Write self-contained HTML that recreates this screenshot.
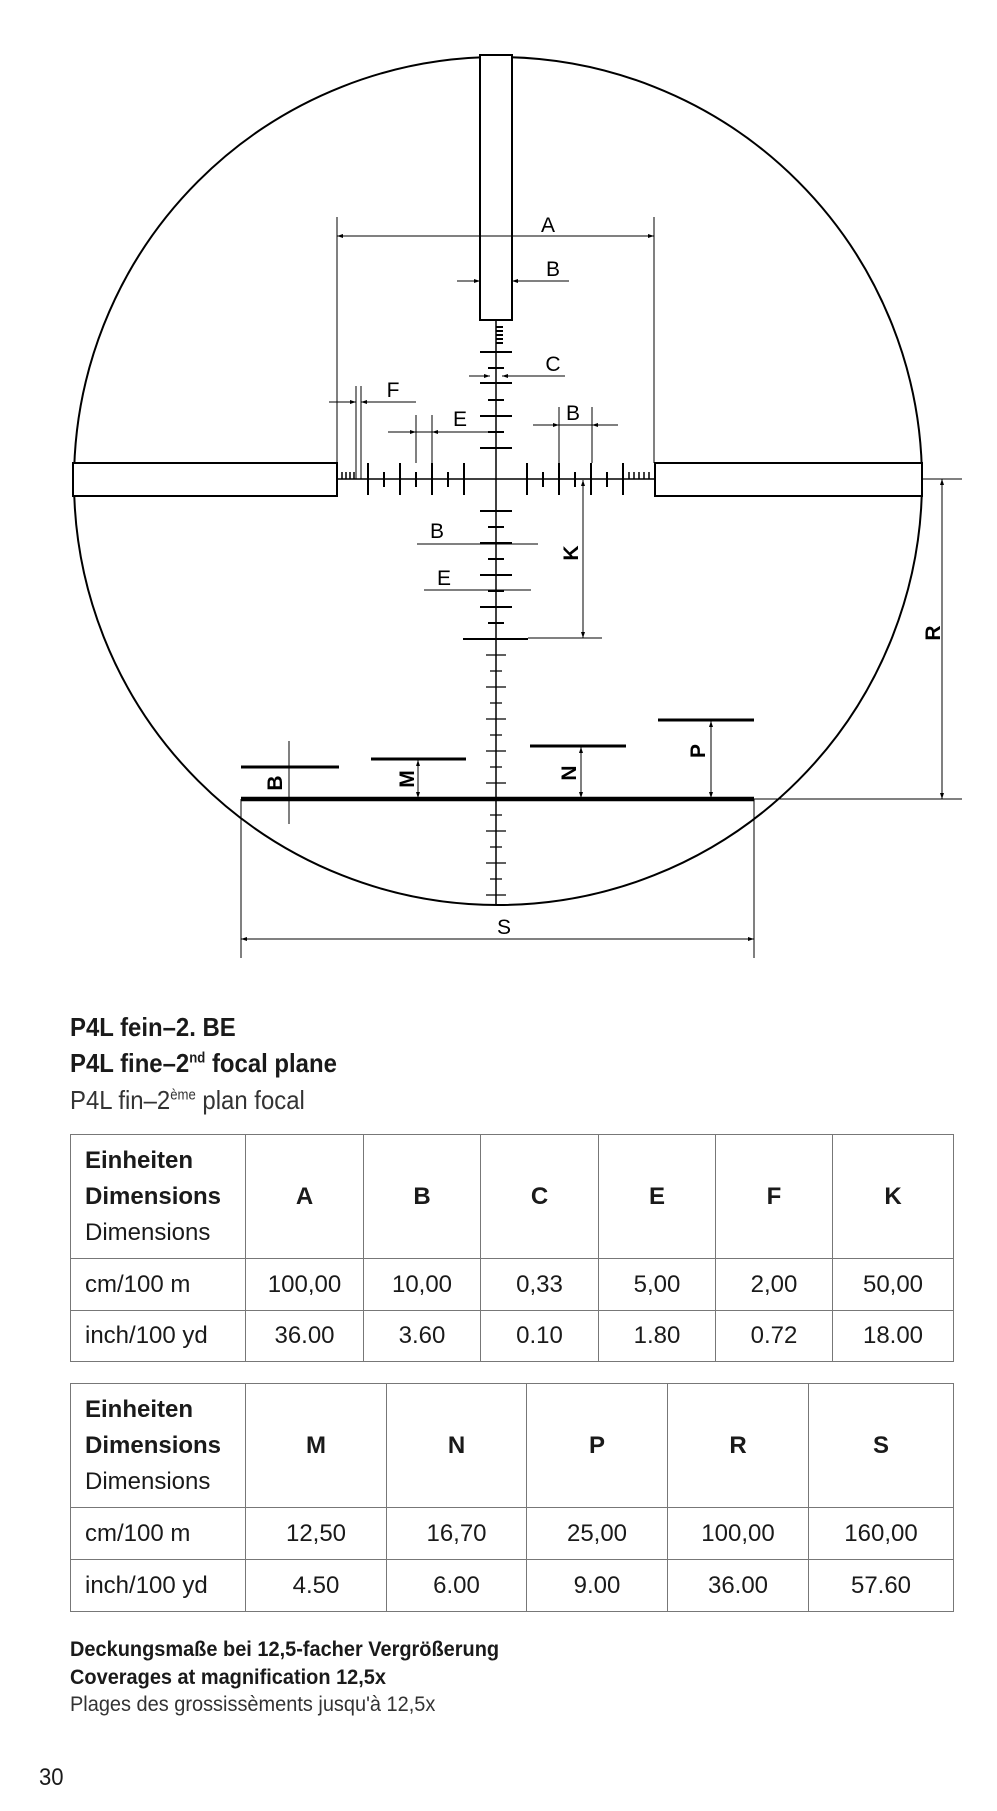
<!DOCTYPE html>
<html><head><meta charset="utf-8"><style>
html,body{margin:0;padding:0;background:#fff;}
body{width:997px;height:1811px;position:relative;overflow:hidden;font-family:"Liberation Sans",sans-serif;color:#1a1a1a;}
.t{position:absolute;white-space:nowrap;transform:scaleX(0.92);transform-origin:left top;}
.f{transform:scaleX(0.95);}
table{position:absolute;border-collapse:collapse;left:70px;width:883px;table-layout:fixed;}
td{border:1.5px solid #777;text-align:center;font-size:24px;padding:0;}
td.h{text-align:left;padding-left:14px;line-height:36px;}
.b{font-weight:bold;}
sup{font-size:55%;}
</style></head><body>
<svg style="position:absolute;left:0;top:0" width="997" height="1000" viewBox="0 0 997 1000">
<defs>
<marker id="ar" viewBox="0 0 6 6" refX="6" refY="3" markerWidth="6" markerHeight="6" orient="auto-start-reverse"><path d="M0,1 L6,3 L0,5 z" fill="#000"/></marker>
</defs>
<g fill="none" stroke="#000">
<circle cx="498" cy="481" r="424" stroke-width="2"/>
<rect x="480" y="55" width="32" height="265" fill="#fff" stroke-width="2"/>
<rect x="73" y="463" width="264" height="33" fill="#fff" stroke-width="2"/>
<rect x="655" y="463" width="267" height="33" fill="#fff" stroke-width="2"/>
<line x1="496" y1="320" x2="496" y2="904" stroke-width="1.5"/>
<line x1="337" y1="479" x2="655" y2="479" stroke-width="1.5"/>
<g stroke-width="2">
<path d="M496 327h7M496 331h7M496 335h7M496 339h7M496 343h7"/>
<path d="M480 352h32M488 368h16M480 383h32M488 400h16M480 416h32M488 432h16M480 448h32"/>
<path d="M480 511h32M488 527h16M480 543h32M488 559h16M480 575h32M488 591h16M480 607h32M488 623h16M463 639h65"/>
<path d="M368 463v32M384 472v15M400 463v32M416 472v15M432 463v32M448 472v15M464 463v32"/>
<path d="M527 463v32M543 472v15M559 463v32M575 472v15M591 463v32M607 472v15M623 463v32"/>
<path d="M342 472v7M346 472v7M350 472v7M354 472v7M629 472v7M634 472v7M639 472v7M644 472v7M649 472v7" stroke-width="1.5"/>
</g>
<g stroke-width="1.2">
<path d="M486 655h20M490 671h12M486 687h20M490 703h12M486 719h20M490 735h12M486 751h20M490 767h12M486 783h20M490 815h12M486 831h20M490 847h12M486 863h20M490 879h12M486 895h20"/>
</g>
<line x1="241" y1="799" x2="754" y2="799" stroke-width="4.5"/>
<path d="M241 767h98M371 759h95M530 746h96M658 720h96" stroke-width="3"/>
<g stroke-width="1">
<path d="M337 217v246M654 217v246"/>
<line x1="337" y1="236" x2="654" y2="236" marker-start="url(#ar)" marker-end="url(#ar)"/>
<path d="M457 281h23M512 281h57"/>
<line x1="468" y1="281" x2="480" y2="281" marker-end="url(#ar)"/><line x1="524" y1="281" x2="512" y2="281" marker-end="url(#ar)"/>
<path d="M469 376h12M511 376h54"/>
<line x1="478" y1="376" x2="490" y2="376" marker-end="url(#ar)"/><line x1="514" y1="376" x2="502" y2="376" marker-end="url(#ar)"/>
<path d="M356 386v93M361 386v93M329 402h27M361 402h55"/>
<line x1="342" y1="402" x2="356" y2="402" marker-end="url(#ar)"/><line x1="374" y1="402" x2="361" y2="402" marker-end="url(#ar)"/>
<path d="M416 415v48M432 415v48M388 432h109"/>
<line x1="404" y1="432" x2="416" y2="432" marker-end="url(#ar)"/><line x1="444" y1="432" x2="432" y2="432" marker-end="url(#ar)"/>
<path d="M559 407v56M592 407v56M533 425h85"/>
<line x1="547" y1="425" x2="559" y2="425" marker-end="url(#ar)"/><line x1="604" y1="425" x2="592" y2="425" marker-end="url(#ar)"/>
<path d="M417 544h121M424 590h107M528 638h74"/>
<line x1="583" y1="480" x2="583" y2="638" marker-start="url(#ar)" marker-end="url(#ar)"/>
<path d="M922 479h40M754 799h208"/>
<line x1="942" y1="479" x2="942" y2="799" marker-start="url(#ar)" marker-end="url(#ar)"/>
<path d="M241 799v159M754 799v159"/>
<line x1="241" y1="939" x2="754" y2="939" marker-start="url(#ar)" marker-end="url(#ar)"/>
<line x1="289" y1="741" x2="289" y2="824"/>
<line x1="418" y1="760" x2="418" y2="798" marker-start="url(#ar)" marker-end="url(#ar)"/>
<line x1="581" y1="747" x2="581" y2="798" marker-start="url(#ar)" marker-end="url(#ar)"/>
<line x1="711" y1="721" x2="711" y2="798" marker-start="url(#ar)" marker-end="url(#ar)"/>
</g>
</g>
<g font-family="Liberation Sans, sans-serif" font-size="21" fill="#000" text-anchor="middle">
<text x="548" y="232">A</text>
<text x="553" y="276">B</text>
<text x="553" y="371">C</text>
<text x="393" y="397">F</text>
<text x="460" y="426">E</text>
<text x="573" y="420">B</text>
<text x="437" y="538">B</text>
<text x="444" y="585">E</text>
<text x="504" y="934">S</text>
<text transform="translate(578,553) rotate(-90)" font-weight="bold">K</text>
<text transform="translate(940,633) rotate(-90)" font-weight="bold">R</text>
<text transform="translate(282,783) rotate(-90)" font-weight="bold">B</text>
<text transform="translate(414,779) rotate(-90)" font-weight="bold">M</text>
<text transform="translate(576,773) rotate(-90)" font-weight="bold">N</text>
<text transform="translate(705,751) rotate(-90)" font-weight="bold">P</text>
</g>
</svg>
<div class="t b" style="left:70px;top:1012px;font-size:26px;">P4L fein–2. BE</div>
<div class="t b" style="left:70px;top:1048px;font-size:26px;">P4L fine–2<sup>nd</sup> focal plane</div>
<div class="t" style="left:70px;top:1085px;font-size:26px;color:#333;">P4L fin–2<sup>ème</sup> plan focal</div>
<table style="top:1134px;">
<colgroup><col style="width:175px"><col style="width:118px"><col style="width:117px"><col style="width:118px"><col style="width:117px"><col style="width:117px"><col style="width:121px"></colgroup>
<tr style="height:124px"><td class="h"><span class="b">Einheiten<br>Dimensions</span><br>Dimensions</td><td class="b">A</td><td class="b">B</td><td class="b">C</td><td class="b">E</td><td class="b">F</td><td class="b">K</td></tr>
<tr style="height:52px"><td class="h">cm/100 m</td><td>100,00</td><td>10,00</td><td>0,33</td><td>5,00</td><td>2,00</td><td>50,00</td></tr>
<tr style="height:51px"><td class="h">inch/100 yd</td><td>36.00</td><td>3.60</td><td>0.10</td><td>1.80</td><td>0.72</td><td>18.00</td></tr>
</table>
<table style="top:1383px;">
<colgroup><col style="width:175px"><col style="width:141px"><col style="width:140px"><col style="width:141px"><col style="width:141px"><col style="width:145px"></colgroup>
<tr style="height:124px"><td class="h"><span class="b">Einheiten<br>Dimensions</span><br>Dimensions</td><td class="b">M</td><td class="b">N</td><td class="b">P</td><td class="b">R</td><td class="b">S</td></tr>
<tr style="height:52px"><td class="h">cm/100 m</td><td>12,50</td><td>16,70</td><td>25,00</td><td>100,00</td><td>160,00</td></tr>
<tr style="height:52px"><td class="h">inch/100 yd</td><td>4.50</td><td>6.00</td><td>9.00</td><td>36.00</td><td>57.60</td></tr>
</table>
<div class="t f b" style="left:70px;top:1638px;font-size:21px;">Deckungsmaße bei 12,5-facher Vergrößerung</div>
<div class="t f b" style="left:70px;top:1666px;font-size:21px;">Coverages at magnification 12,5x</div>
<div class="t f" style="left:70px;top:1693px;font-size:21px;color:#333;">Plages des grossissèments jusqu'à 12,5x</div>
<div class="t" style="left:39px;top:1764px;font-size:24px;">30</div>
</body></html>
